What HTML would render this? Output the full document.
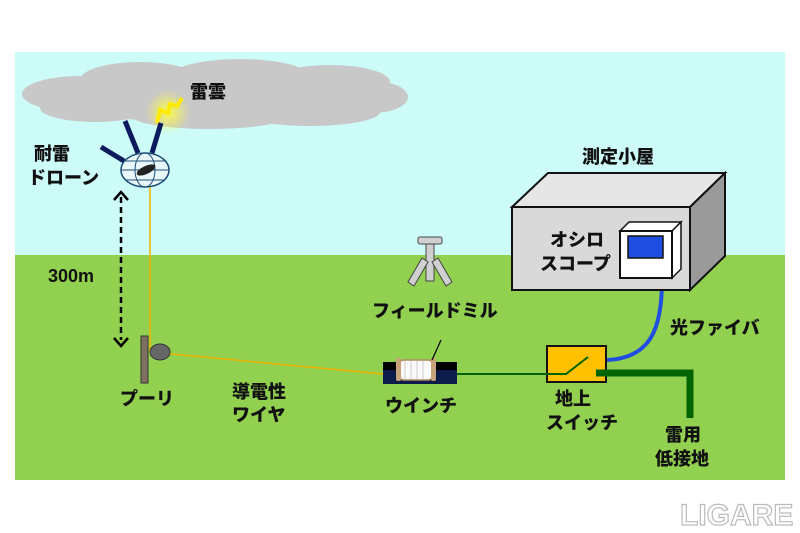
<!DOCTYPE html>
<html><head><meta charset="utf-8"><style>
html,body{margin:0;padding:0;background:#fff;width:800px;height:533px;overflow:hidden}
svg text{font-family:"Liberation Sans","Noto Sans CJK JP",sans-serif;font-weight:900;fill:#111}
</style></head><body>
<svg width="800" height="533" viewBox="0 0 800 533" xmlns="http://www.w3.org/2000/svg">
<defs>
<radialGradient id="glow"><stop offset="0" stop-color="#ffff40" stop-opacity="0.9"/><stop offset="1" stop-color="#ffff40" stop-opacity="0"/></radialGradient>
</defs>
<rect x="15" y="52" width="770" height="203" fill="#ccfbf8"/>
<rect x="15" y="255" width="770" height="225" fill="#92d050"/>
<!-- cloud -->
<g fill="#c8c8c8">
<ellipse cx="215" cy="97" rx="185" ry="25"/>
<ellipse cx="80" cy="94" rx="58" ry="18"/>
<ellipse cx="140" cy="80" rx="60" ry="18"/>
<ellipse cx="240" cy="77" rx="70" ry="18"/>
<ellipse cx="330" cy="82" rx="60" ry="17"/>
<ellipse cx="372" cy="97" rx="36" ry="16"/>
<ellipse cx="210" cy="115" rx="80" ry="14"/>
<ellipse cx="310" cy="112" rx="70" ry="14"/>
<ellipse cx="95" cy="108" rx="55" ry="14"/>
</g>
<circle cx="168" cy="112" r="22" fill="url(#glow)"/>
<polyline points="157,123 160,110 168,113 170,104 177,106 182,98" fill="none" stroke="#ffea00" stroke-width="4"/>
<text x="190" y="98" font-size="18">雷雲</text>
<!-- drone -->
<g stroke="#0d1b5e" stroke-width="5">
<line x1="125" y1="121" x2="138" y2="153"/>
<line x1="161" y1="123" x2="152" y2="153"/>
<line x1="101" y1="147" x2="124" y2="161"/>
</g>
<ellipse cx="145" cy="170" rx="24" ry="17" fill="#e8f8fa" stroke="#1f4e79" stroke-width="1.5"/>
<ellipse cx="145" cy="170" rx="10" ry="17" fill="none" stroke="#1f4e79"/>
<line x1="121" y1="170" x2="169" y2="170" stroke="#1f4e79"/>
<line x1="125" y1="161" x2="165" y2="161" stroke="#1f4e79"/>
<line x1="125" y1="180" x2="165" y2="180" stroke="#1f4e79"/>
<ellipse cx="146" cy="170" rx="10" ry="4" fill="#222" transform="rotate(-25 146 170)"/>
<text x="34" y="160" font-size="18">耐雷</text>
<text x="28" y="184" font-size="18">ドローン</text>
<!-- dashed arrow -->
<line x1="121" y1="197" x2="121" y2="340" stroke="#000" stroke-width="2.5" stroke-dasharray="6,4"/>
<polyline points="114,200 121,192 128,200" fill="none" stroke="#000" stroke-width="2.5"/>
<polyline points="114,338 121,346 128,338" fill="none" stroke="#000" stroke-width="2.5"/>
<text x="48" y="282" font-size="18">300m</text>
<!-- wires -->
<polyline points="150,187 150,352 383,374" fill="none" stroke="#f0b400" stroke-width="1.5"/>
<!-- pulley -->
<rect x="141" y="336" width="7" height="47" fill="#7f6f60" stroke="#333" stroke-width="1"/>
<ellipse cx="160" cy="352" rx="10" ry="8" fill="#666" stroke="#333"/>
<text x="120" y="405" font-size="18">プーリ</text>
<text x="232" y="398" font-size="18">導電性</text>
<text x="232" y="421" font-size="18">ワイヤ</text>
<!-- field mill -->
<g fill="#d0d0d0" stroke="#444" stroke-width="1">
<rect x="418" y="237" width="24" height="7" rx="2"/>
<rect x="426" y="244" width="8" height="37"/>
<polygon points="422,258 428,262 414,286 408,282"/>
<polygon points="438,258 432,262 446,286 452,282"/>
</g>
<text x="372" y="317" font-size="18">フィールドミル</text>
<!-- winch -->
<rect x="383" y="362" width="74" height="22" fill="#0d1b4a"/>
<rect x="383" y="362" width="74" height="8" fill="#000"/>
<rect x="399" y="360" width="34" height="20" rx="5" fill="#fafafa" stroke="#b08a60" stroke-width="1.5"/>
<g stroke="#ccc" stroke-width="1"><line x1="405" y1="361" x2="405" y2="379"/><line x1="411" y1="361" x2="411" y2="379"/><line x1="417" y1="361" x2="417" y2="379"/><line x1="423" y1="361" x2="423" y2="379"/></g>
<rect x="396" y="358" width="5" height="23" rx="2" fill="#c8a27a"/>
<rect x="431" y="358" width="5" height="23" rx="2" fill="#c8a27a"/>
<line x1="432" y1="360" x2="441" y2="340" stroke="#000" stroke-width="1.2"/>
<text x="385" y="412" font-size="18">ウインチ</text>
<!-- switch -->
<rect x="547" y="346" width="59" height="36" fill="#ffc000" stroke="#111" stroke-width="2"/>
<polyline points="457,374 566,374 588,357" fill="none" stroke="#006400" stroke-width="2"/>
<polyline points="596,373 690,373 690,418" fill="none" stroke="#006400" stroke-width="7"/>
<path d="M607,360 C650,358 662,330 662,280" fill="none" stroke="#1f4fe0" stroke-width="4"/>
<text x="555" y="405" font-size="18">地上</text>
<text x="546" y="429" font-size="18">スイッチ</text>
<text x="665" y="441" font-size="18">雷用</text>
<text x="655" y="465" font-size="18">低接地</text>
<text x="670" y="334" font-size="18">光ファイバ</text>
<!-- hut -->
<polygon points="512,207 548,173 725,173 690,207" fill="#e6e6e6" stroke="#111" stroke-width="2"/>
<polygon points="690,207 725,173 725,256 690,290" fill="#9a9a9a" stroke="#111" stroke-width="2"/>
<rect x="512" y="207" width="178" height="83" fill="#d9d9d9" stroke="#111" stroke-width="2"/>
<polygon points="620,231 629,222 681,222 672,231" fill="#fff" stroke="#111" stroke-width="1.5"/>
<polygon points="672,231 681,222 681,269 672,278" fill="#fff" stroke="#111" stroke-width="1.5"/>
<rect x="620" y="231" width="52" height="47" fill="#fff" stroke="#111" stroke-width="2"/>
<rect x="628" y="236" width="35" height="22" fill="#1f4fe0" stroke="#111" stroke-width="1.5"/>
<text x="550" y="246" font-size="18">オシロ</text>
<text x="540" y="270" font-size="18">スコープ</text>
<text x="582" y="163" font-size="18">測定小屋</text>
<!-- logo -->
<text x="680" y="525" font-size="30" style="fill:#fff;stroke:#bbb;stroke-width:1.2;font-weight:bold">LIGARE</text>
</svg>
</body></html>
